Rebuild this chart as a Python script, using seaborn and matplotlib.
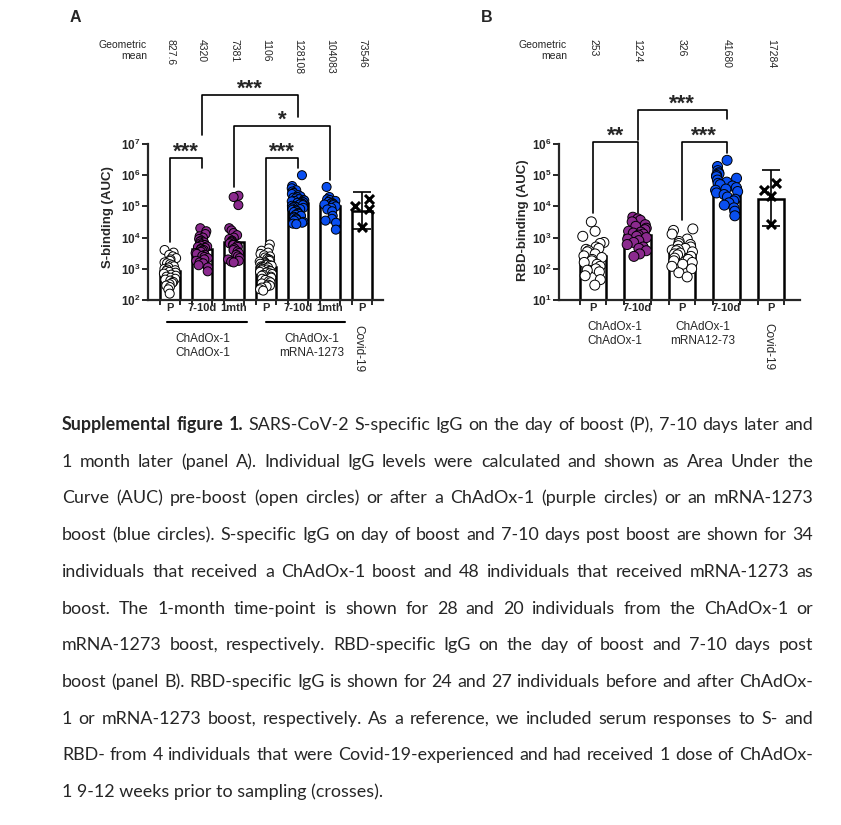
import numpy as np
import pandas as pd
import matplotlib
matplotlib.use("Agg")
import matplotlib.pyplot as plt
import matplotlib.transforms as mtransforms
from matplotlib.ticker import FixedLocator, NullLocator
import seaborn as sns

# ---------------- panel A: S-binding (AUC) ----------------
a_ticklabels = ["P", "7-10d", "1mth", "P", "7-10d", "1mth", "P"]
a_geo_mean = [827.6, 4320, 7381, 1106, 128108, 104083, 73546]
a_kinds = ["open", "purple", "purple", "open", "blue", "blue"]

a_chad_p = [4000, 3300, 2800, 2500, 2200, 2000, 1800, 1600, 1500, 1400, 1300, 1200,
            1100, 1000, 950, 900, 850, 800, 750, 700, 650, 600, 560, 520, 480, 450,
            420, 380, 350, 320, 290, 260, 220, 160]
a_chad_7d = [20000, 16000, 13000, 11000, 10000, 9000, 8000, 7500, 7000, 6500, 6000,
             5800, 5500, 5200, 5000, 4700, 4400, 4200, 4000, 3800, 3500, 3200, 3000,
             2800, 2600, 2400, 2200, 2000, 1800, 1600, 1500, 1300, 1100, 830]
a_chad_1m = [220000, 200000, 110000, 20000, 17000, 14000, 12000, 10000, 9000, 8000,
             7500, 7000, 6500, 6000, 5800, 5500, 5000, 4500, 4000, 3600, 3200, 2800,
             2500, 2200, 2000, 1800, 1700, 1600]
a_mrna_p = [6000, 4500, 3800, 3300, 3000, 2700, 2500, 2300, 2100, 2000, 1900, 1800,
            1700, 1600, 1500, 1450, 1400, 1350, 1300, 1250, 1200, 1150, 1100, 1050,
            1000, 950, 900, 870, 840, 800, 760, 720, 680, 640, 600, 560, 520, 480,
            440, 400, 370, 340, 310, 290, 270, 250, 220, 200]
a_mrna_7d = [1000000, 450000, 380000, 330000, 300000, 270000, 250000, 230000, 210000,
             200000, 190000, 180000, 170000, 160000, 155000, 150000, 145000, 140000,
             135000, 130000, 125000, 120000, 115000, 110000, 105000, 100000, 97000,
             94000, 90000, 86000, 82000, 78000, 74000, 70000, 66000, 62000, 58000,
             54000, 50000, 47000, 44000, 41000, 38000, 35000, 32000, 30000, 28000, 27000]
a_mrna_1m = [420000, 200000, 170000, 160000, 150000, 140000, 130000, 125000, 120000,
             115000, 110000, 100000, 90000, 80000, 70000, 50000, 40000, 35000, 30000, 18000]
a_covid = [100000, 170000, 83000, 22000]

# ---------------- panel B: RBD-binding (AUC) ----------------
b_ticklabels = ["P", "7-10d", "P", "7-10d", "P"]
b_geo_mean = [253, 1224, 326, 41680, 17284]
b_kinds = ["open", "purple", "open", "blue"]

b_chad_p = [3200, 1600, 1100, 700, 650, 500, 450, 420, 380, 350, 300, 260, 230, 200,
            180, 160, 140, 120, 100, 90, 80, 60, 45, 30]
b_chad_7d = [4500, 4000, 3600, 3200, 2600, 2300, 2000, 1800, 1600, 1500, 1400, 1300,
             1200, 1100, 1000, 900, 800, 700, 600, 500, 450, 380, 300, 250]
b_mrna_p = [1900, 1700, 1300, 900, 750, 650, 600, 550, 500, 450, 420, 400, 380, 350,
            320, 300, 280, 250, 220, 200, 180, 160, 140, 120, 100, 75, 55]
b_mrna_7d = [300000, 190000, 140000, 120000, 110000, 100000, 90000, 80000, 70000,
             60000, 55000, 50000, 45000, 40000, 36000, 33000, 30000, 27000, 24000,
             20000, 17000, 15000, 13000, 11000, 9000, 7000, 5000]
b_covid = [34000, 55000, 21000, 2800]

# significance brackets: (group1, group2, top, leg1 bottom, leg2 bottom, label), heights in log10
a_brackets = [(0, 1, 6.55, 3.86, 6.23, "***"),
              (1, 4, 8.57, 7.29, 7.87, "***"),
              (2, 5, 7.58, 5.62, 5.85, "*"),
              (3, 4, 6.55, 3.86, 6.23, "***")]
b_brackets = [(0, 1, 6.06, 3.79, 3.79, "**"),
              (1, 3, 7.09, 6.13, 6.80, "***"),
              (2, 3, 6.06, 3.56, 5.71, "***")]

caption = [
    "Supplemental figure 1. SARS-CoV-2 S-specific IgG on the day of boost (P), 7-10 days later and",
    "1 month later (panel A). Individual IgG levels were calculated and shown as Area Under the",
    "Curve (AUC) pre-boost (open circles) or after a ChAdOx-1 (purple circles) or an mRNA-1273",
    "boost (blue circles). S-specific IgG on day of boost and 7-10 days post boost are shown for 34",
    "individuals that received a ChAdOx-1 boost and 48 individuals that received mRNA-1273 as",
    "boost. The 1-month time-point is shown for 28 and 20 individuals from the ChAdOx-1 or",
    "mRNA-1273 boost, respectively. RBD-specific IgG on the day of boost and 7-10 days post",
    "boost (panel B). RBD-specific IgG is shown for 24 and 27 individuals before and after ChAdOx-",
    "1 or mRNA-1273 boost, respectively. As a reference, we included serum responses to S- and",
    "RBD- from 4 individuals that were Covid-19-experienced and had received 1 dose of ChAdOx-",
    "1 9-12 weeks prior to sampling (crosses).",
]

colors = {"open": "white", "purple": "#8b2a8e", "blue": "#0a4ff0"}

sns.set_style("ticks")
plt.rcParams["font.family"] = ["Liberation Sans", "DejaVu Sans"]
plt.rcParams["mathtext.fontset"] = "custom"
plt.rcParams["mathtext.rm"] = "Liberation Sans"
plt.rcParams["mathtext.bf"] = "Liberation Sans:bold"

W, H = 841, 825
fig = plt.figure(figsize=(W / 100, H / 100), dpi=100)


def fx(px):
    return px / W


def fy(py):
    return 1 - py / H


def draw_panel(ax, groups, kinds, gm, ticklabels, covid, covid_dx, bar_w, jitter,
               msize, decades, xlim, brackets):
    n = len(gm)
    rows = []
    for i, (vals, kind) in enumerate(zip(groups, kinds)):
        for v in vals:
            rows.append({"grp": i, "val": v, "kind": kind})
    df = pd.DataFrame(rows)

    ax.set_yscale("log")
    sns.barplot(x=list(range(n)), y=gm, ax=ax, color="white", edgecolor="black",
                linewidth=1.8, width=bar_w, errorbar=None, zorder=1)
    sns.stripplot(data=df, x="grp", y="val", hue="kind", palette=colors, order=list(range(n)),
                  jitter=jitter, size=msize, linewidth=0.7, edgecolor="black",
                  legend=False, ax=ax, zorder=3)

    # Covid-19 reference: crosses + geometric mean with 95% CI
    cx = n - 1
    ax.scatter(cx + np.array(covid_dx), covid, marker="x", s=42, c="black",
               linewidths=2.2, zorder=4)
    logs = np.log10(covid)
    se = logs.std(ddof=1) / np.sqrt(len(logs))
    t975 = 3.182  # t quantile, df = 3
    lo = 10 ** (logs.mean() - t975 * se)
    hi = 10 ** (logs.mean() + t975 * se)
    ax.errorbar(cx, gm[-1], yerr=[[gm[-1] - lo], [hi - gm[-1]]], fmt="none",
                ecolor="black", elinewidth=1.2, capsize=6.5, capthick=1.2, zorder=5)

    ax.set_xlim(*xlim)
    ax.set_ylim(10 ** decades[0], 10 ** decades[1])
    ax.set_xticks(range(n))
    ax.set_xticklabels(ticklabels, fontweight="bold", fontsize=8)
    edges = [p + s * bar_w / 2 for p in range(n) for s in (-1, 1)]
    ax.xaxis.set_minor_locator(FixedLocator(edges))
    ax.tick_params(axis="x", which="major", length=0, pad=2.5)
    ax.tick_params(axis="x", which="minor", length=3.5, width=1.4, direction="out")
    yt = [10 ** k for k in range(decades[0], decades[1] + 1)]
    ax.set_yticks(yt)
    ax.set_yticklabels([r"$\mathbf{10^{%d}}$" % k for k in range(decades[0], decades[1] + 1)],
                       fontsize=8.5)
    ax.yaxis.set_minor_locator(NullLocator())
    ax.tick_params(axis="y", length=4, width=1.4, pad=1.5)
    ax.set_xlabel("")
    ax.set_ylabel("")
    for side in ("top", "right"):
        ax.spines[side].set_visible(False)
    for side in ("left", "bottom"):
        ax.spines[side].set_linewidth(1.6)

    for x1, x2, top, b1, b2, lab in brackets:
        ax.plot([x1, x1, x2, x2], [10 ** b1, 10 ** top, 10 ** top, 10 ** b2],
                color="black", lw=1.2, clip_on=False)
        ax.text((x1 + x2) / 2, 10 ** top, lab, ha="center", va="baseline",
                fontsize=16, fontweight="bold", clip_on=False)

    trans = mtransforms.blended_transform_factory(ax.transData, fig.transFigure)
    for i, v in enumerate(gm):
        ax.text(i, fy(39), f"{v:g}", transform=trans, rotation=270, ha="center",
                va="top", fontsize=7.5, clip_on=False)
    return trans


axA = fig.add_axes([fx(148), fy(300), (383 - 148) / W, (300 - 144) / H])
axB = fig.add_axes([fx(559), fy(300), (800 - 559) / W, (300 - 144) / H])

np.random.seed(7)
tA = draw_panel(axA, [a_chad_p, a_chad_7d, a_chad_1m, a_mrna_p, a_mrna_7d, a_mrna_1m],
                a_kinds, a_geo_mean, a_ticklabels, a_covid, [-0.22, 0.22, 0.22, 0.0],
                0.63, 0.2, 6.5, (2, 7), (-0.6875, 6.656), a_brackets)
tB = draw_panel(axB, [b_chad_p, b_chad_7d, b_mrna_p, b_mrna_7d],
                b_kinds, b_geo_mean, b_ticklabels, b_covid, [-0.16, 0.12, 0.0, 0.0],
                0.6, 0.25, 7.2, (1, 6), (-0.764, 4.65), b_brackets)

# headers, panel letters, axis titles
for px, letter in ((75, "A"), (487, "B")):
    fig.text(fx(px), fy(17), letter, fontsize=11.5, fontweight="bold", ha="center", va="center")
for px in (147, 567):
    fig.text(fx(px), fy(40), "Geometric\nmean", ha="right", va="top", fontsize=7.5,
             linespacing=1.1)
fig.text(fx(108), fy(217), "S-binding (AUC)", rotation=90, ha="center", va="center",
         fontsize=9.5, fontweight="bold")
fig.text(fx(523), fy(220), "RBD-binding (AUC)", rotation=90, ha="center", va="center",
         fontsize=9.5, fontweight="bold")

# group labels under the x axes
for x1, x2 in ((-0.1, 2.4), (3.0, 5.47)):
    axA.plot([x1, x2], [fy(322), fy(322)], transform=tA, color="black", lw=1.5, clip_on=False)
axA.text(1.03, fy(333), "ChAdOx-1\nChAdOx-1", transform=tA, ha="center", va="top",
         fontsize=8.5, linespacing=1.25)
axA.text(4.44, fy(333), "ChAdOx-1\nmRNA-1273", transform=tA, ha="center", va="top",
         fontsize=8.5, linespacing=1.25)
axA.text(5.875, fy(325), "Covid-19", transform=tA, rotation=270, ha="center", va="top",
         fontsize=8.5)
axB.text(0.5, fy(321), "ChAdOx-1\nChAdOx-1", transform=tB, ha="center", va="top",
         fontsize=8.5, linespacing=1.25)
axB.text(2.47, fy(321), "ChAdOx-1\nmRNA12-73", transform=tB, ha="center", va="top",
         fontsize=8.5, linespacing=1.25)
axB.text(3.93, fy(323), "Covid-19", transform=tB, rotation=270, ha="center", va="top",
         fontsize=8.5)

# justified caption, font sized so the widest line nearly fills the text block
renderer = fig.canvas.get_renderer()
left, right = 62, 813
cap_font = "Lato"
fs = 12.0
widest = 0
for line in caption[:-1]:
    t = fig.text(0, 0, line, fontsize=fs, family=cap_font)
    widest = max(widest, t.get_window_extent(renderer).width)
    t.remove()
fs *= 0.985 * (right - left) / widest

for i, line in enumerate(caption):
    base = round(430 + 36.7 * i)
    if i == len(caption) - 1:
        fig.text(fx(left), fy(base), line, fontsize=fs, family=cap_font, va="baseline")
        continue
    words = line.split(" ")
    nbold = 3 if i == 0 else 0
    arts = [fig.text(0, fy(base), w, fontsize=fs, family=cap_font, va="baseline",
                     fontweight="bold" if j < nbold else "normal")
            for j, w in enumerate(words)]
    widths = [a.get_window_extent(renderer).width for a in arts]
    gap = (right - left - sum(widths)) / (len(words) - 1)
    x = left
    for a, w in zip(arts, widths):
        a.set_x(fx(x))
        x += w + gap

fig.savefig("out.png", dpi=100)
